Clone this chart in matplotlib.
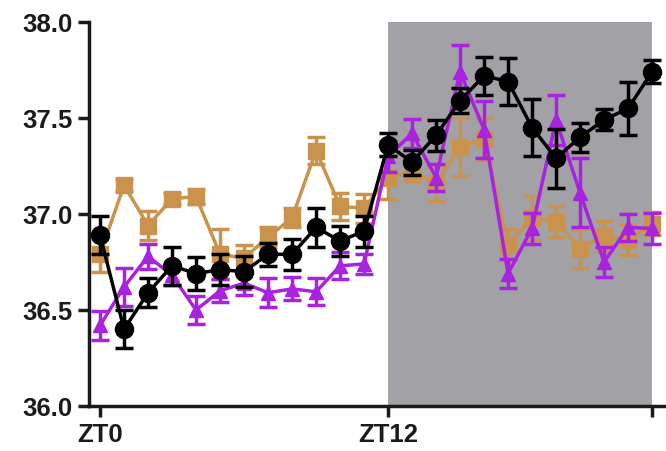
import numpy as np
import matplotlib.pyplot as plt

plt.rcParams['font.family'] = ['Liberation Sans', 'DejaVu Sans']
plt.rcParams['font.weight'] = 'bold'

# hours ZT0..ZT23
zt = np.arange(24)

# black circles
black_mean = [36.89, 36.40, 36.59, 36.73, 36.69, 36.71, 36.70, 36.79, 36.79, 36.93, 36.86, 36.91,
              37.36, 37.27, 37.41, 37.59, 37.72, 37.69, 37.45, 37.29, 37.40, 37.49, 37.55, 37.74]
black_err = [0.10, 0.10, 0.075, 0.10, 0.085, 0.08, 0.08, 0.06, 0.08, 0.10, 0.08, 0.08,
             0.06, 0.065, 0.08, 0.065, 0.10, 0.12, 0.15, 0.155, 0.075, 0.055, 0.14, 0.06]

# orange squares
orange_mean = [36.79, 37.15, 36.94, 37.08, 37.09, 36.79, 36.77, 36.88, 36.98, 37.33, 37.04, 37.03,
               37.19, 37.22, 37.16, 37.35, 37.39, 36.84, 36.98, 36.96, 36.82, 36.885, 36.865, 36.95]
orange_err = [0.09, 0.03, 0.075, 0.03, 0.04, 0.13, 0.07, 0.05, 0.05, 0.07, 0.07, 0.075,
              0.11, 0.05, 0.09, 0.15, 0.11, 0.08, 0.115, 0.08, 0.10, 0.08, 0.08, 0.06]

# purple triangles
purple_mean = [36.42, 36.62, 36.78, 36.68, 36.50, 36.60, 36.64, 36.59, 36.61, 36.595, 36.73, 36.74,
               37.30, 37.42, 37.19, 37.74, 37.44, 36.69, 36.925, 37.49, 37.11, 36.75, 36.93, 36.925]
purple_err = [0.075, 0.10, 0.065, 0.05, 0.075, 0.06, 0.06, 0.075, 0.06, 0.07, 0.07, 0.05,
              0.08, 0.075, 0.07, 0.14, 0.15, 0.075, 0.08, 0.13, 0.18, 0.08, 0.07, 0.08]

fig = plt.figure(figsize=(6.66, 4.51), dpi=100)
ax = fig.add_axes([89 / 666, 1 - 406 / 451, 1 - 89 / 666, (406 - 22) / 451])

ax.axvspan(12, 23, color='#A2A1A6', lw=0, zorder=0)

style = dict(lw=2.5, elinewidth=2.5, capsize=6.5, capthick=2.5)
ax.errorbar(zt, orange_mean, yerr=orange_err, color='#C9934E', marker='s', ms=11.5,
            zorder=2, **style)
ax.errorbar(zt, purple_mean, yerr=purple_err, color='#A822E0', marker='^', ms=10.5,
            zorder=3, **style)
ax.errorbar(zt, black_mean, yerr=black_err, color='black', marker='o', ms=13,
            zorder=4, **style)

ax.set_xlim(-0.46, 23.58)
ax.set_ylim(36.0, 38.0)
ax.set_yticks([36.0, 36.5, 37.0, 37.5, 38.0])
ax.set_yticklabels(['36.0', '36.5', '37.0', '37.5', '38.0'])
ax.set_xticks([0, 12, 23])
ax.set_xticklabels(['ZT0', 'ZT12', ''])

for s in ['top', 'right']:
    ax.spines[s].set_visible(False)
for s in ['left', 'bottom']:
    ax.spines[s].set_linewidth(2.5)
    ax.spines[s].set_color('#1a1a1a')

ax.tick_params(axis='both', length=8, width=2.5, color='#1a1a1a', labelsize=18.5, pad=4)
for lab in ax.get_xticklabels() + ax.get_yticklabels():
    lab.set_fontweight('bold')
    lab.set_color('#1a1a1a')

fig.savefig('out.png', dpi=100)
